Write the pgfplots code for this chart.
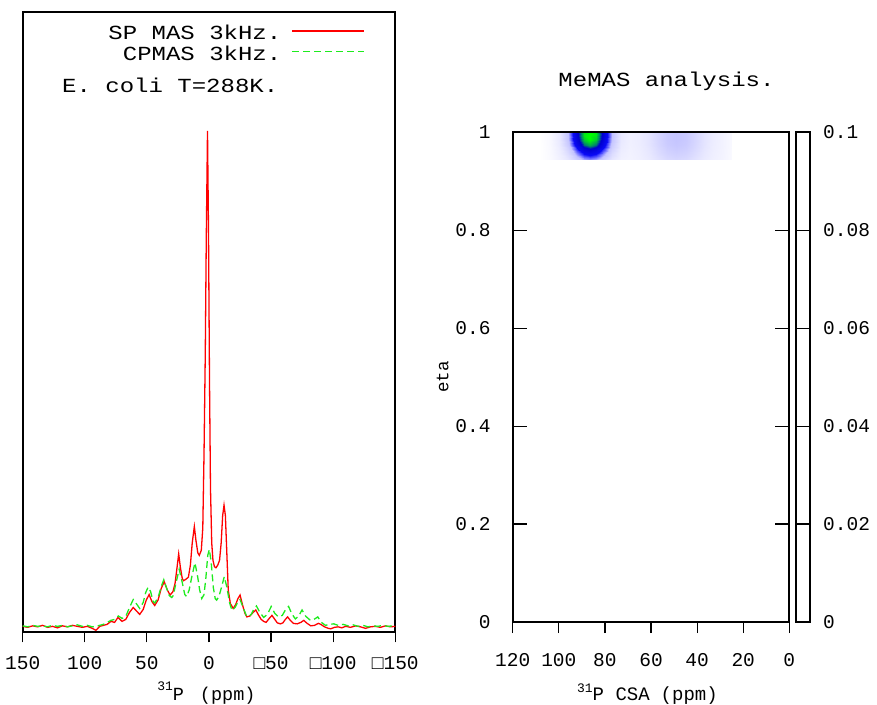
\documentclass[border=0pt]{standalone}
\usepackage{fontspec}
\setmainfont{Liberation Mono}
\newfontfamily\widefont[FakeStretch=1.2]{Liberation Mono}
\usepackage{pgfplots}
\usepackage{pgfplotstable}
\pgfplotsset{compat=1.18}
\definecolor{spred}{RGB}{255,0,0}
\definecolor{cpgreen}{RGB}{30,235,30}

\pgfplotstableread{
x y
150 0.002
146 0.000
142 0.003
138 0.001
134 0.004
130 0.000
126 0.002
122 -0.001
118 0.003
114 0.001
110 0.004
106 0.002
102 0.000
98 0.002
94 -0.002
91 -0.006
88 0.002
85 0.004
82 0.006
79 0.012
76 0.010
73.3 0.020
70 0.012
67 0.016
64 0.030
61 0.040
58 0.032
55.8 0.026
53 0.036
50.5 0.055
48.2 0.066
46 0.052
43.7 0.044
41 0.055
38.5 0.078
36.1 0.092
33.5 0.075
31.3 0.065
29 0.072
27.3 0.089
26 0.115
24.4 0.148
23 0.120
21.5 0.098
20.4 0.094
18.5 0.097
16.6 0.101
15 0.125
13.5 0.170
11.8 0.203
10.5 0.175
9 0.150
7.8 0.145
6.2 0.155
5 0.20
4 0.35
3 0.55
2.2 0.78
1.2 1.0
0.4 0.80
-0.4 0.50
-1.2 0.28
-2.2 0.17
-3.2 0.135
-4.4 0.122
-5.6 0.120
-7 0.125
-8.5 0.135
-9.8 0.170
-11 0.225
-12.1 0.246
-13.2 0.225
-14.2 0.160
-15.5 0.075
-17.2 0.048
-19.5 0.038
-21.5 0.046
-23.3 0.058
-25 0.065
-27 0.045
-29 0.028
-30.5 0.021
-33 0.023
-35.5 0.030
-37.7 0.035
-39.8 0.025
-42 0.016
-44 0.012
-46 0.010
-48.5 0.018
-50.7 0.024
-53 0.016
-55 0.009
-57.4 0.007
-59.5 0.009
-61.5 0.016
-63.3 0.021
-65.5 0.014
-68 0.008
-71 0.007
-74 0.010
-76.3 0.014
-79 0.008
-82 0.003
-85 0.004
-88 0.008
-90 0.006
-93 0.001
-96 -0.002
-98 -0.003
-101 0.000
-104 0.001
-107 -0.001
-110 0.002
-114 0.000
-118 0.003
-122 0.001
-126 -0.002
-130 0.001
-134 0.002
-138 0.000
-142 0.003
-146 0.001
-150 0.002
}\spdata

\pgfplotstableread{
x y
150 0.003
146 0.001
142 0.004
138 0.002
134 0.003
130 0.001
126 0.004
122 0.002
118 0.004
114 0.001
110 0.003
106 0.005
102 0.002
98 0.004
94 0.001
91 0.002
88 0.004
85 0.006
82 0.010
79 0.014
76 0.016
73 0.023
70 0.018
67 0.022
64 0.040
61 0.056
58 0.046
55.8 0.038
53 0.050
51 0.070
49 0.081
47 0.072
45 0.052
43.7 0.049
41 0.060
38.5 0.082
36.4 0.096
34 0.078
32 0.064
30 0.060
28.8 0.064
26.5 0.090
24 0.117
21.5 0.090
19.5 0.066
18 0.062
16 0.075
14 0.100
11.3 0.130
9 0.100
7.5 0.075
5.8 0.058
4 0.066
2.5 0.100
1 0.145
-0.3 0.157
-1.8 0.130
-3.5 0.080
-5 0.058
-6.2 0.055
-8 0.062
-10 0.080
-12.3 0.102
-14.5 0.080
-16.5 0.050
-18.5 0.034
-21 0.040
-23 0.050
-25 0.056
-27.5 0.040
-30 0.024
-31.5 0.021
-34 0.026
-36 0.036
-38.2 0.043
-41 0.030
-44 0.020
-47 0.026
-50.1 0.042
-53 0.028
-56 0.021
-59 0.024
-61.5 0.035
-64.1 0.042
-66.5 0.028
-69.5 0.017
-72 0.022
-74.9 0.035
-78 0.022
-81.7 0.014
-84.5 0.016
-87.6 0.021
-90.5 0.010
-93.8 0.004
-97 0.006
-100.5 0.007
-104 0.004
-108 0.006
-112 0.003
-116 0.005
-120 0.002
-124 0.004
-128 0.001
-132 0.003
-136 0.002
-140 0.004
-144 0.002
-148 0.003
-150 0.002
}\cpdata

\pgfplotstableread{
x y v
108 0.945 0.000
104 0.945 0.035
100 0.945 0.089
96 0.945 0.164
92 0.945 0.297
89 0.945 0.391
86.5 0.945 0.421
84 0.945 0.391
81 0.945 0.297
77 0.945 0.165
73 0.945 0.094
69 0.945 0.081
65 0.945 0.100
61 0.945 0.137
57 0.945 0.186
53 0.945 0.229
49 0.945 0.247
45 0.945 0.229
41 0.945 0.186
37 0.945 0.137
33 0.945 0.099
29 0.945 0.076
25 0.945 0.035
108 0.955 0.000
104 0.955 0.037
100 0.955 0.102
96 0.955 0.209
92 0.955 0.402
89 0.955 0.537
86.5 0.955 0.580
84 0.955 0.537
81 0.955 0.402
77 0.955 0.211
73 0.955 0.108
69 0.955 0.086
65 0.955 0.106
61 0.955 0.150
57 0.955 0.208
53 0.955 0.259
49 0.955 0.279
45 0.955 0.259
41 0.955 0.208
37 0.955 0.150
33 0.955 0.105
29 0.955 0.079
25 0.955 0.036
108 0.965 0.001
104 0.965 0.040
100 0.965 0.115
96 0.965 0.259
92 0.965 0.515
89 0.965 0.695
86.5 0.965 0.753
84 0.965 0.695
81 0.965 0.515
77 0.965 0.261
73 0.965 0.122
69 0.965 0.091
65 0.965 0.112
61 0.965 0.161
57 0.965 0.227
53 0.965 0.284
49 0.965 0.307
45 0.965 0.284
41 0.965 0.227
37 0.965 0.161
33 0.965 0.111
29 0.965 0.081
25 0.965 0.037
108 0.975 0.001
104 0.975 0.042
100 0.975 0.128
96 0.975 0.304
92 0.975 0.618
89 0.975 0.839
86.5 0.975 0.909
84 0.975 0.839
81 0.975 0.618
77 0.975 0.306
73 0.975 0.136
69 0.975 0.095
65 0.975 0.117
61 0.975 0.170
57 0.975 0.241
53 0.975 0.303
49 0.975 0.328
45 0.975 0.303
41 0.975 0.241
37 0.975 0.170
33 0.975 0.115
29 0.975 0.083
25 0.975 0.038
108 0.985 0.002
104 0.985 0.044
100 0.985 0.137
96 0.985 0.336
92 0.985 0.691
89 0.985 0.940
86.5 0.985 1.000
84 0.985 0.940
81 0.985 0.691
77 0.985 0.338
73 0.985 0.145
69 0.985 0.098
65 0.985 0.120
61 0.985 0.174
57 0.985 0.248
53 0.985 0.313
49 0.985 0.339
45 0.985 0.313
41 0.985 0.248
37 0.985 0.174
33 0.985 0.118
29 0.985 0.084
25 0.985 0.038
108 0.995 0.002
104 0.995 0.044
100 0.995 0.140
96 0.995 0.347
92 0.995 0.717
89 0.995 0.977
86.5 0.995 1.000
84 0.995 0.977
81 0.995 0.717
77 0.995 0.349
73 0.995 0.148
69 0.995 0.098
65 0.995 0.120
61 0.995 0.174
57 0.995 0.248
53 0.995 0.313
49 0.995 0.339
45 0.995 0.313
41 0.995 0.248
37 0.995 0.174
33 0.995 0.118
29 0.995 0.084
25 0.995 0.038
108 1.000 0.002
104 1.000 0.044
100 1.000 0.139
96 1.000 0.344
92 1.000 0.710
89 1.000 0.968
86.5 1.000 1.000
84 1.000 0.968
81 1.000 0.710
77 1.000 0.346
73 1.000 0.147
69 1.000 0.097
65 1.000 0.119
61 1.000 0.173
57 1.000 0.245
53 1.000 0.309
49 1.000 0.334
45 1.000 0.309
41 1.000 0.245
37 1.000 0.173
33 1.000 0.117
29 1.000 0.083
25 1.000 0.037
}\memas

\newcommand{\tickfont}{\fontsize{19.5}{20}\selectfont}
\newcommand{\bigfont}{\widefont\fontsize{20}{20}\selectfont}

\begin{document}
\begin{tikzpicture}[x=1pt,y=1pt]
\path[use as bounding box] (0pt,0pt) rectangle (877pt,704pt);

% ---------- left panel: spectra ----------
\begin{axis}[
  at={(22.7pt,71.7pt)}, anchor=south west, scale only axis,
  width=372.6pt, height=620.6pt,
  xmin=-150, xmax=150, x dir=reverse, ymin=-0.01, ymax=1.24,
  xtick={-150,-100,-50,0,50,100,150},
  xticklabels={□150,□100,□50,0,50,100,150},
  ytick=\empty, xtick pos=bottom, tick align=outside, major tick length=10pt,
  axis line style={line width=2pt},
  tick style={line width=1.2pt, black},
  xticklabel style={font=\tickfont, anchor=base, yshift=-26.7pt},
  xlabel={{\fontsize{13}{13}\selectfont\raisebox{10pt}{31}}P\hspace{16pt}(ppm)},
  xlabel style={font=\fontsize{18.5}{19}\selectfont, at={(axis description cs:0.493,-0.1091)}, anchor=base},
  legend style={at={(rel axis cs:0.9187,0.978)}, anchor=north east, draw=none, fill=none,
    font=\bigfont, legend cell align=right, column sep=10pt, row sep=0pt, inner sep=0pt,
    nodes={inner sep=0pt, text height=14pt, text depth=6.7pt}},
  legend plot pos=right,
  legend image code/.code={\draw[#1, line width=1.5pt] (0pt,5pt) -- (72pt,5pt);},
]
\addplot[spred, line width=1.3pt] table[x=x,y=y] {\spdata};
\addlegendentry{SP MAS 3kHz.}
\addplot[cpgreen, line width=1.3pt, dash pattern=on 7pt off 4pt] table[x=x,y=y] {\cpdata};
\addlegendentry{CPMAS 3kHz.}
\node[anchor=base west, font=\bigfont, inner sep=0pt] at (rel axis cs:0.1055,0.8695) {E. coli T=288K.};
\end{axis}

% ---------- right panel: MeMAS map ----------
\begin{axis}[
  at={(512.7pt,82pt)}, anchor=south west, scale only axis,
  width=276.6pt, height=489.7pt,
  xmin=0, xmax=120, x dir=reverse, ymin=0, ymax=1,
  xtick=\empty,
  ytick={0,0.2,0.4,0.6,0.8,1}, yticklabels={0,0.2,0.4,0.6,0.8,1},
  tick align=inside, major tick length=14pt,
  axis line style={line width=2pt},
  tick style={line width=1.2pt, black},
  yticklabel style={font=\tickfont, anchor=east, inner sep=0pt, xshift=-22pt},
  axis on top,
  colormap={memas}{rgb255(0cm)=(255,255,255) rgb255(1.5cm)=(232,232,255) rgb255(3.5cm)=(195,195,255) rgb255(4.6cm)=(90,90,255) rgb255(5.4cm)=(10,10,245) rgb255(7.6cm)=(0,0,205) rgb255(8.6cm)=(0,130,110) rgb255(10cm)=(0,255,0)},
  point meta min=0, point meta max=1,
  title={MeMAS analysis.},
  title style={font=\bigfont, at={(axis description cs:0.556,1.0817)}, anchor=base},
  ylabel={eta},
  ylabel style={font=\fontsize{17.5}{18}\selectfont, at={(axis description cs:-0.253,0.5)}, anchor=center},
]
\addplot[surf, shader=interp, mesh/cols=23, point meta=explicit] table[x=x,y=y,meta=v] {\memas};
\end{axis}

% overlay axis carrying the outward x ticks
\begin{axis}[
  at={(512.7pt,82pt)}, anchor=south west, scale only axis,
  width=276.6pt, height=489.7pt,
  xmin=0, xmax=120, x dir=reverse, ymin=0, ymax=1,
  xtick={0,20,40,60,80,100,120}, xticklabels={0,20,40,60,80,100,120},
  ytick=\empty, xtick pos=bottom, tick align=outside, major tick length=11pt,
  axis line style={line width=2pt},
  tick style={line width=1.2pt, black},
  xticklabel style={font=\tickfont, anchor=base, yshift=-33.7pt},
  xlabel={{\fontsize{13}{13}\selectfont\raisebox{8pt}{31}}P CSA\hspace{11pt}(ppm)},
  xlabel style={font=\fontsize{19}{19}\selectfont, at={(axis description cs:0.487,-0.1593)}, anchor=base},
]
\end{axis}

% colour bar
\begin{axis}[
  at={(795.7pt,82pt)}, anchor=south west, scale only axis,
  width=14.3pt, height=489.7pt,
  xmin=0, xmax=1, ymin=0, ymax=0.1,
  xtick=\empty,
  ytick={0,0.02,0.04,0.06,0.08,0.1}, yticklabels={0,0.02,0.04,0.06,0.08,0.1},
  ytick pos=right, yticklabel pos=right, tick align=inside, major tick length=14.3pt,
  axis line style={line width=1.6pt},
  tick style={line width=1.2pt, black},
  yticklabel style={font=\tickfont, anchor=west, inner sep=0pt, xshift=13pt},
]
\end{axis}
\end{tikzpicture}
\end{document}
